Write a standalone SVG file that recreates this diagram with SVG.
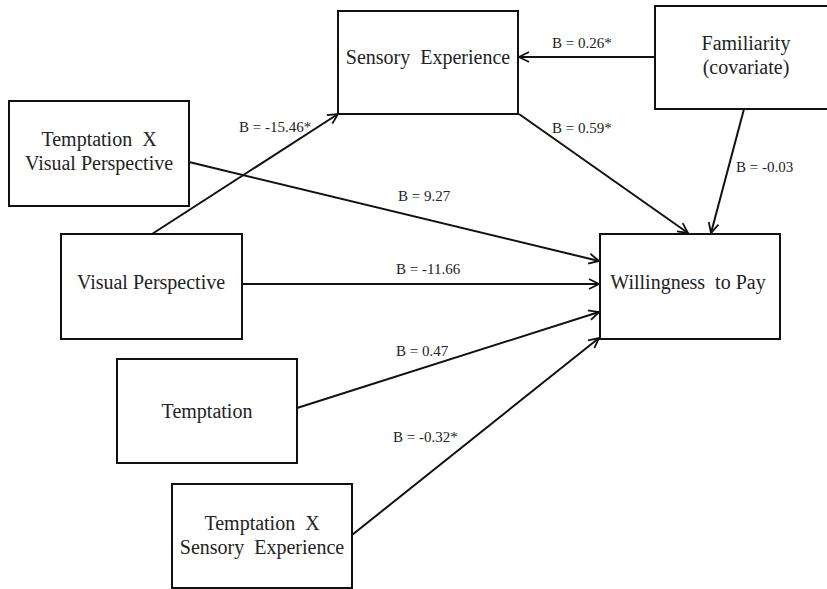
<svg xmlns="http://www.w3.org/2000/svg" width="827" height="589" viewBox="0 0 827 589">
<style>
.box{fill:#fff;stroke:#111;stroke-width:2}
.t{font-family:'Liberation Serif','DejaVu Serif',serif;font-size:20px;fill:#222;text-anchor:middle}
.lbl{font-family:'Liberation Serif','DejaVu Serif',serif;font-size:15px;fill:#222}
.c{fill:none;stroke:#111;stroke-width:2;marker-end:url(#arr)}
</style>
<defs>
<marker id="arr" viewBox="0 0 12 12" refX="11" refY="6" markerWidth="12" markerHeight="12" markerUnits="userSpaceOnUse" orient="auto">
<path d="M1,1 L11,6 L1,11" fill="none" stroke="#111" stroke-width="1.8"/>
</marker>
</defs>
<rect width="827" height="589" fill="#fff"/>
<g id="connectors">
<line class="c" x1="654" y1="57" x2="519" y2="57"/>
<line class="c" x1="152" y1="234" x2="338" y2="114"/>
<line class="c" x1="519" y1="114" x2="688" y2="233"/>
<line class="c" x1="744" y1="109" x2="711" y2="233"/>
<line class="c" x1="189" y1="162" x2="599" y2="261"/>
<line class="c" x1="242" y1="284" x2="599" y2="284"/>
<line class="c" x1="297" y1="408" x2="599" y2="312"/>
<line class="c" x1="352" y1="535" x2="599" y2="338"/>
<text class="lbl" x="552" y="48">B = 0.26*</text>
<text class="lbl" x="239" y="132">B = -15.46*</text>
<text class="lbl" x="552" y="133">B = 0.59*</text>
<text class="lbl" x="736" y="172">B = -0.03</text>
<text class="lbl" x="398" y="201">B = 9.27</text>
<text class="lbl" x="396" y="274">B = -11.66</text>
<text class="lbl" x="396" y="356">B = 0.47</text>
<text class="lbl" x="393" y="442">B = -0.32*</text>
</g>
<g id="sensory">
<rect class="box" x="338" y="11" width="180" height="103"/>
<text class="t" x="428" y="64" xml:space="preserve">Sensory  Experience</text>
</g>
<g id="familiarity">
<rect class="box" x="655" y="6" width="182" height="103"/>
<text class="t" x="746" y="50">Familiarity</text>
<text class="t" x="746" y="74">(covariate)</text>
</g>
<g id="temptation-x-vp">
<rect class="box" x="9" y="101" width="180" height="105"/>
<text class="t" x="99" y="146" xml:space="preserve">Temptation  X</text>
<text class="t" x="99" y="170">Visual Perspective</text>
</g>
<g id="visual-perspective">
<rect class="box" x="61" y="234" width="181" height="105"/>
<text class="t" x="151" y="289">Visual Perspective</text>
</g>
<g id="wtp">
<rect class="box" x="600" y="234" width="180" height="105"/>
<text class="t" x="688" y="289" xml:space="preserve">Willingness  to Pay</text>
</g>
<g id="temptation">
<rect class="box" x="117" y="359" width="180" height="104"/>
<text class="t" x="207" y="418">Temptation</text>
</g>
<g id="temptation-x-se">
<rect class="box" x="172" y="484" width="180" height="104"/>
<text class="t" x="262" y="530" xml:space="preserve">Temptation  X</text>
<text class="t" x="262" y="554" xml:space="preserve">Sensory  Experience</text>
</g>
</svg>
